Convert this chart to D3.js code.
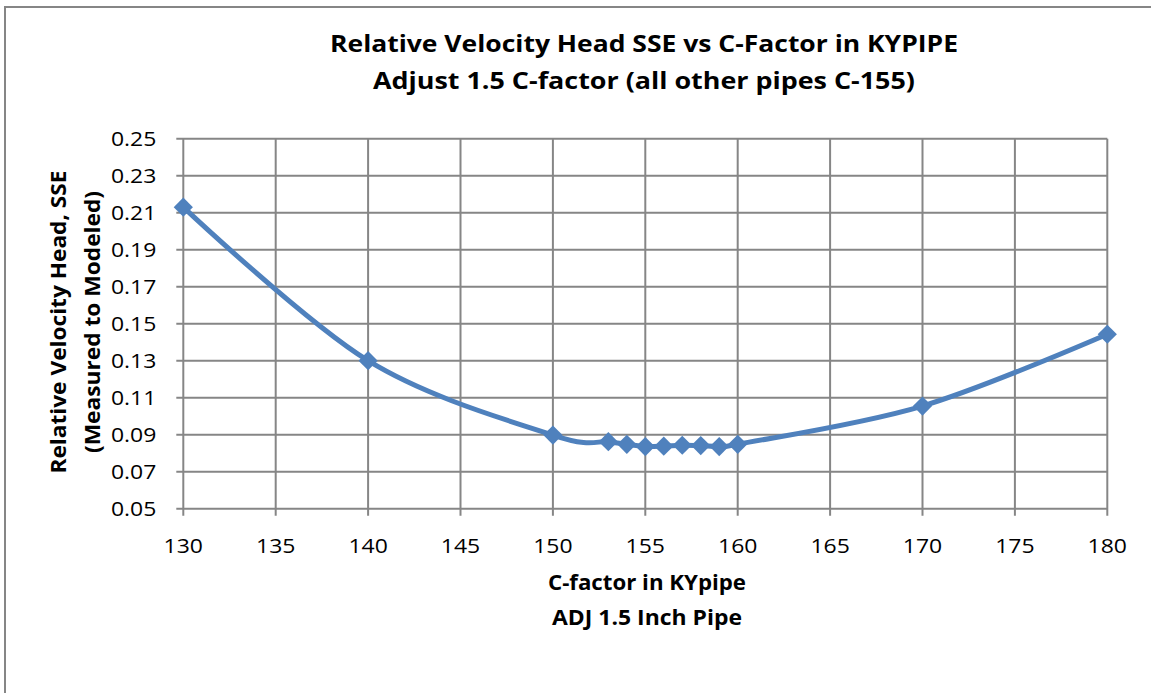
<!DOCTYPE html>
<html><head><meta charset="utf-8">
<script src="https://cdn.jsdelivr.net/npm/d3@7"></script>
<style>body{margin:0;background:#fff}svg{display:block}</style>
</head><body>
<svg id="c" width="1151" height="693"></svg>
<script>
const cFactor = [130, 140, 150, 153, 154, 155, 156, 157, 158, 159, 160, 170, 180];
const sse = [0.213, 0.130, 0.0898, 0.0862, 0.0848, 0.0836, 0.0838, 0.0843, 0.0841, 0.0836, 0.0848, 0.1055, 0.1443];
const xTicks = [130, 135, 140, 145, 150, 155, 160, 165, 170, 175, 180];
const yTicks = [0.05, 0.07, 0.09, 0.11, 0.13, 0.15, 0.17, 0.19, 0.21, 0.23, 0.25];
const titleLines = ["Relative Velocity Head SSE vs C-Factor in KYPIPE", "Adjust 1.5 C-factor (all other pipes C-155)"];
const xTitleLines = ["C-factor in KYpipe", "ADJ 1.5 Inch Pipe"];
const yTitleLines = ["Relative Velocity Head,  SSE", "(Measured to Modeled)"];

const svg = d3.select("#c");
const font = "'Open Sans', 'Liberation Sans', Arial, sans-serif";
const grid = "#868686";
const blue = "#4F81BD";

svg.append("rect").attr("x", 5).attr("y", 7).attr("width", 1150).attr("height", 700)
  .attr("fill", "#fff").attr("stroke", grid).attr("stroke-width", 2);

const L = 183.3, R = 1107.3, T = 138.7, B = 508.7;
const x = d3.scaleLinear().domain([130, 180]).range([L, R]);
const y = d3.scaleLinear().domain([0.05, 0.25]).range([B, T]);

const g = svg.append("g");
g.selectAll("line.h").data(yTicks).join("line")
  .attr("x1", L - 7).attr("x2", R).attr("y1", d => y(d)).attr("y2", d => y(d))
  .attr("stroke", grid).attr("stroke-width", 2);
g.selectAll("line.v").data(xTicks).join("line")
  .attr("y1", T).attr("y2", B + 7).attr("x1", d => x(d)).attr("x2", d => x(d))
  .attr("stroke", grid).attr("stroke-width", 2);

g.selectAll("text.yt").data(yTicks).join("text")
  .attr("transform", d => `translate(${L - 27},${y(d) + 7}) scale(1.12,1)`)
  .attr("text-anchor", "end").attr("font-family", font).attr("font-size", 20.5)
  .attr("fill", "#000").text(d => d3.format(".2f")(d));
g.selectAll("text.xt").data(xTicks).join("text")
  .attr("transform", d => `translate(${x(d)},552.5) scale(1.12,1)`)
  .attr("text-anchor", "middle").attr("font-family", font).attr("font-size", 20.5)
  .attr("fill", "#000").text(d => d);

const line = d3.line().x((d, i) => x(cFactor[i])).y(d => y(d)).curve(d3.curveCardinal.tension(0));
g.append("path").datum(sse).attr("d", line).attr("fill", "none")
  .attr("stroke", blue).attr("stroke-width", 5);

g.selectAll("path.m").data(sse).join("path")
  .attr("transform", (d, i) => `translate(${x(cFactor[i])},${y(d)}) rotate(45)`)
  .attr("d", d3.symbol().type(d3.symbolSquare).size(185))
  .attr("fill", blue);

const titleLen = [628, 542];
svg.selectAll("text.title").data(titleLines).join("text")
  .attr("x", 644).attr("y", (d, i) => 52 + i * 37)
  .attr("text-anchor", "middle").attr("font-family", font).attr("font-weight", "bold")
  .attr("font-size", 23.5).attr("textLength", (d, i) => titleLen[i])
  .attr("lengthAdjust", "spacingAndGlyphs").text(d => d);
const xtLen = [198, 190];
svg.selectAll("text.xtitle").data(xTitleLines).join("text")
  .attr("x", 647).attr("y", (d, i) => 590 + i * 35)
  .attr("text-anchor", "middle").attr("font-family", font).attr("font-weight", "bold")
  .attr("font-size", 20.5).attr("textLength", (d, i) => xtLen[i])
  .attr("lengthAdjust", "spacingAndGlyphs").text(d => d);
const ytLen = [303, 262];
svg.selectAll("text.ytitle").data(yTitleLines).join("text")
  .attr("transform", (d, i) => `translate(${66 + i * 34},322) rotate(-90)`)
  .attr("text-anchor", "middle").attr("font-family", font).attr("font-weight", "bold")
  .attr("font-size", 20.5).attr("textLength", (d, i) => ytLen[i])
  .attr("lengthAdjust", "spacingAndGlyphs").text(d => d);
</script>
</body></html>
